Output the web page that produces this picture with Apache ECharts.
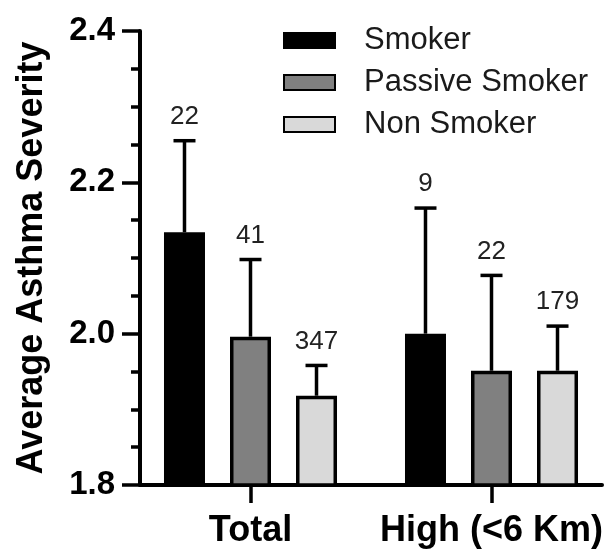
<!DOCTYPE html>
<html>
<head>
<meta charset="utf-8">
<script src="https://cdn.jsdelivr.net/npm/echarts@6/dist/echarts.min.js"></script>
<style>
  html, body { margin: 0; padding: 0; background: #fff; }
  #chart { width: 612px; height: 549px; }
</style>
</head>
<body>
<div id="chart"></div>
<script>
// Average asthma severity by smoking status (mean with upper SD bar, n above each bar)
const categories = ['Total', 'High (<6 Km)'];
const groupNames = ['Smoker', 'Passive Smoker', 'Non Smoker'];

const smokerMean  = [2.134, 2.000];
const smokerUpper = [2.255, 2.166];
const smokerN     = [22, 9];

const passiveMean  = [1.996, 1.951];
const passiveUpper = [2.098, 2.077];
const passiveN     = [41, 22];

const nonMean  = [1.918, 1.951];
const nonUpper = [1.958, 2.010];
const nonN     = [347, 179];

const yMin = 1.8, yMax = 2.4, yStep = 0.2;

const FONT = "'Liberation Sans', Arial, Helvetica, sans-serif";
const BAR_W = 41;
const BAR_GAP = 0.61;               // fraction of bar width between bars
const PITCH = BAR_W * (1 + BAR_GAP);
const CAP = 22;
const LW = 3.5;

const fills = ['#000000', '#808080', '#d9d9d9'];
const means = [smokerMean, passiveMean, nonMean];
const uppers = [smokerUpper, passiveUpper, nonUpper];
const counts = [smokerN, passiveN, nonN];

const barSeries = groupNames.map((name, k) => ({
  name: name,
  type: 'bar',
  xAxisIndex: 0,
  yAxisIndex: 0,
  barWidth: BAR_W,
  barGap: (BAR_GAP * 100) + '%',
  itemStyle: { color: fills[k], borderColor: '#000', borderWidth: LW },
  data: means[k],
  z: 2
}));

const errSeries = groupNames.map((name, k) => ({
  name: name + ' SD',
  type: 'custom',
  xAxisIndex: 0,
  yAxisIndex: 0,
  data: categories.map((c, i) => [i, means[k][i], uppers[k][i], counts[k][i]]),
  renderItem: function (params, api) {
    const base = api.coord([api.value(0), api.value(1)]);
    const top = api.coord([api.value(0), api.value(2)]);
    const x = base[0] + (k - 1) * PITCH;
    const line = { stroke: '#000', lineWidth: LW };
    return {
      type: 'group',
      children: [
        { type: 'line', shape: { x1: x, y1: base[1], x2: x, y2: top[1] }, style: line },
        { type: 'line', shape: { x1: x - CAP / 2, y1: top[1], x2: x + CAP / 2, y2: top[1] }, style: line },
        {
          type: 'text',
          style: {
            text: String(api.value(3)),
            x: x,
            y: top[1] - 11,
            align: 'center',
            verticalAlign: 'bottom',
            fontSize: 26,
            fontFamily: FONT,
            fill: '#222'
          }
        }
      ]
    };
  },
  z: 3
}));

const chart = echarts.init(document.getElementById('chart'), null, { renderer: 'canvas' });

chart.setOption({
  animation: false,
  backgroundColor: '#fff',
  legend: {
    data: groupNames,
    orient: 'vertical',
    left: 283,
    top: 25,
    padding: 0,
    itemWidth: 51,
    itemHeight: 15,
    itemGap: 11,
    icon: 'rect',
    textStyle: {
      fontSize: 31,
      lineHeight: 31,
      fontFamily: FONT,
      color: '#1a1a1a',
      padding: [0, 0, 0, 24]
    }
  },
  grid: [
    { left: 130, right: 0, top: 31, bottom: 64, outerBoundsMode: 'none', containLabel: false },
    { left: 140, right: 10, top: 31, bottom: 64, outerBoundsMode: 'none', containLabel: false }
  ],
  xAxis: [
    {
      type: 'category',
      gridIndex: 0,
      data: categories,
      axisLine: { show: false },
      axisTick: { show: true, alignWithLabel: true, length: 18, lineStyle: { color: '#000', width: LW } },
      axisLabel: {
        interval: 0,
        hideOverlap: false,
        showMinLabel: true,
        showMaxLabel: true,
        margin: 28,
        fontSize: 36,
        fontWeight: 'bold',
        fontFamily: FONT,
        color: '#000'
      },
      splitLine: { show: false }
    },
    {
      type: 'value',
      gridIndex: 1,
      min: 0,
      max: 1,
      axisLine: { show: true, lineStyle: { color: '#000', width: 4 } },
      axisTick: { show: false },
      axisLabel: { show: false },
      splitLine: { show: false }
    }
  ],
  yAxis: [
    {
      type: 'value',
      gridIndex: 0,
      min: yMin,
      max: yMax,
      interval: yStep,
      offset: -10,
      name: 'Average Asthma Severity',
      nameLocation: 'middle',
      nameGap: 90,
      nameTextStyle: { fontSize: 36, fontWeight: 'bold', fontFamily: FONT, color: '#000' },
      axisLine: { show: true, lineStyle: { color: '#000', width: 4 } },
      axisTick: { show: true, length: 18, lineStyle: { color: '#000', width: LW } },
      minorTick: { show: true, splitNumber: 4, length: 9, lineStyle: { color: '#000', width: LW } },
      axisLabel: {
        margin: 25,
        fontSize: 33,
        fontWeight: 'bold',
        fontFamily: FONT,
        color: '#000',
        formatter: v => v.toFixed(1)
      },
      splitLine: { show: false }
    },
    { type: 'value', gridIndex: 1, min: 0, max: 1, show: false }
  ],
  series: barSeries.concat(errSeries)
});
</script>
</body>
</html>
